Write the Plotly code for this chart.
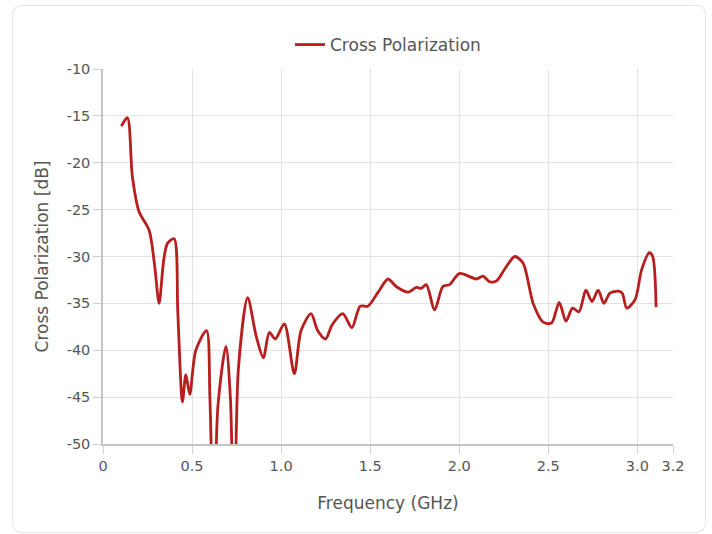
import plotly.graph_objects as go

freq_ghz = [0.103, 0.137, 0.165, 0.202, 0.259, 0.290, 0.315, 0.340, 0.362, 0.399, 0.420, 0.446,
            0.465, 0.487, 0.521, 0.581, 0.600, 0.622, 0.645, 0.690, 0.715, 0.736, 0.760,
            0.812, 0.860, 0.900, 0.934, 0.967, 1.018, 1.074, 1.112, 1.168, 1.205, 1.249,
            1.286, 1.346, 1.397, 1.444, 1.487, 1.534, 1.552, 1.600, 1.646, 1.712, 1.759,
            1.787, 1.815, 1.862, 1.908, 1.946, 2.002, 2.096, 2.133, 2.171, 2.209, 2.260,
            2.312, 2.358, 2.415, 2.471, 2.518, 2.561, 2.599, 2.636, 2.672, 2.711, 2.745,
            2.780, 2.812, 2.846, 2.893, 2.915, 2.940, 2.987, 3.024, 3.067, 3.086, 3.105]
cross_pol_db = [-16.1, -15.2, -21.5, -25.2, -27.2, -31.0, -35.0, -30.5, -28.6, -28.1, -36.0, -45.5,
                -42.6, -44.7, -40.0, -37.9, -45.0, -60.0, -46.0, -39.6, -45.0, -60.0, -42.0,
                -34.4, -38.5, -40.8, -38.1, -38.8, -37.2, -42.5, -37.9, -36.1, -37.9, -38.8,
                -37.3, -36.1, -37.6, -35.3, -35.3, -34.1, -33.6, -32.4, -33.2, -33.8, -33.3,
                -33.4, -33.0, -35.7, -33.2, -33.0, -31.8, -32.4, -32.1, -32.7, -32.6, -31.2,
                -30.0, -30.7, -35.0, -37.0, -37.1, -34.9, -36.9, -35.5, -35.9, -33.6, -34.8,
                -33.6, -35.0, -33.9, -33.7, -33.9, -35.5, -34.6, -31.4, -29.6, -30.0, -35.4]

x_tickvals = [0, 0.5, 1.0, 1.5, 2.0, 2.5, 3.0, 3.2]
x_ticktext = ["0", "0.5", "1.0", "1.5", "2.0", "2.5", "3.0", "3.2"]
y_tickvals = [-10, -15, -20, -25, -30, -35, -40, -45, -50]
y_ticktext = ["-10", "-15", "-20", "-25", "-30", "-35", "-40", "-45", "-50"]

FONT = "DejaVu Sans"
TXT = "#555555"
W, H = 712, 534
ML, MR, MT, MB = 103, 39, 69, 90
pw, ph = W - ML - MR, H - MT - MB

def P(x, y):
    a, b = (x - ML) / pw, (H - MB - y) / ph
    return f"{a:.5f},{b:.5f}"

# rounded card border (pixel geometry converted to paper coordinates)
x0, y0, x1, y1, r = 12.5, 5.5, 705.5, 532.5, 10
path = (f"M {P(x0 + r, y0)} L {P(x1 - r, y0)} Q {P(x1, y0)} {P(x1, y0 + r)} "
        f"L {P(x1, y1 - r)} Q {P(x1, y1)} {P(x1 - r, y1)} "
        f"L {P(x0 + r, y1)} Q {P(x0, y1)} {P(x0, y1 - r)} "
        f"L {P(x0, y0 + r)} Q {P(x0, y0)} {P(x0 + r, y0)} Z")

fig = go.Figure()
fig.add_trace(go.Scatter(
    x=freq_ghz, y=cross_pol_db, mode="lines", name="Cross Polarization",
    line=dict(color="#B71F1E", width=2.8, shape="spline", smoothing=0.8),
))

fig.update_layout(
    width=W, height=H,
    margin=dict(l=ML, r=MR, t=MT, b=MB),
    paper_bgcolor="white", plot_bgcolor="white",
    font=dict(family=FONT, size=15, color=TXT),
    showlegend=True,
    legend=dict(orientation="h", x=0.5, xanchor="center", y=1.064, yanchor="middle",
                font=dict(size=17, color=TXT)),
    shapes=[dict(type="path", xref="paper", yref="paper", path=path,
                 line=dict(color="#e3e3e3", width=1), fillcolor="rgba(0,0,0,0)", layer="below")],
)
fig.update_xaxes(
    range=[0, 3.2], tickvals=x_tickvals, ticktext=x_ticktext,
    showgrid=True, gridcolor="#e2e2e2", gridwidth=1,
    showline=True, linecolor="#c4c4c4", linewidth=1.5,
    ticks="outside", ticklen=8, tickcolor="#d0d0d0",
    zeroline=False, tickfont=dict(size=14.5, color=TXT),
    title=dict(text="Frequency (GHz)", font=dict(size=17, color=TXT), standoff=24),
)
fig.update_yaxes(
    range=[-50, -10], tickvals=y_tickvals, ticktext=y_ticktext,
    showgrid=True, gridcolor="#e2e2e2", gridwidth=1,
    showline=True, linecolor="#c4c4c4", linewidth=1.5,
    ticks="outside", ticklen=8, tickcolor="#d0d0d0",
    zeroline=False, tickfont=dict(size=14.5, color=TXT),
    title=dict(text="Cross Polarization [dB]", font=dict(size=17, color=TXT), standoff=14),
)

fig.write_html("out.html", config={"displayModeBar": False},
               post_script="document.body.style.margin='0px';")
